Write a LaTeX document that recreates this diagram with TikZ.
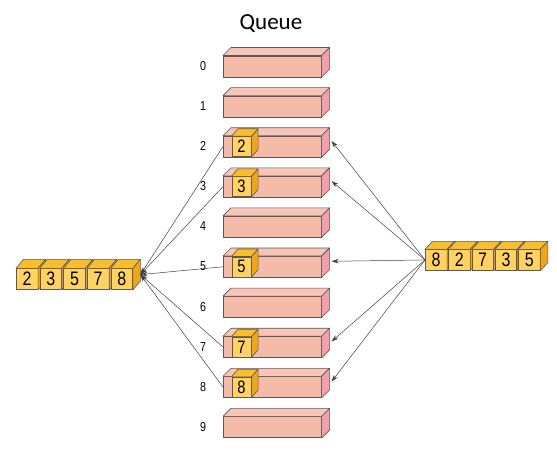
\documentclass[tikz,border=0pt]{standalone}
\usepackage{fontspec}
\setmainfont{Liberation Sans}
\newfontfamily\titlefont{Carlito}
\newfontfamily\narrowfont[FakeStretch=0.82]{Liberation Sans}
\usetikzlibrary{arrows.meta}
\definecolor{edgec}{HTML}{5E5656}
\definecolor{barfr}{HTML}{F4BBA8}
\definecolor{bartp}{HTML}{F7C6B6}
\definecolor{barrt}{HTML}{F0A0A6}
\definecolor{cubefr}{HTML}{FFD262}
\definecolor{cubetp}{HTML}{F8BE2C}
\definecolor{cubert}{HTML}{F0A61A}
\definecolor{arrc}{HTML}{404040}
\tikzset{
  barbox/.style={draw=edgec, fill=barfr, line width=0.6pt, minimum width=98pt, minimum height=21pt, inner sep=0pt, anchor=north west},
  cubebox/.style={draw=edgec, fill=cubefr, line width=0.6pt, inner sep=0pt, anchor=north west, font=\narrowfont\fontsize{19.5}{19.5}\selectfont, text=black},
  incube/.style={cubebox, minimum width=19.5pt, minimum height=20pt},
  stackcube/.style={cubebox, minimum width=21.5pt, minimum height=21pt},
  idx/.style={font=\narrowfont\fontsize{13}{13}\selectfont, text=black},
  conn/.style={draw=arrc, line width=0.5pt, -{Stealth[length=7pt,width=4.5pt]}},
}
% faces: #1 node, #2 dx, #3 dy, #4 top colour, #5 right colour
\newcommand{\boxfaces}[5]{%
  \filldraw[draw=edgec, fill=#4, line width=0.6pt, line join=round] (#1.north west) -- ++(#2,#3) -- ([shift={(#2,#3)}]#1.north east) -- (#1.north east) -- cycle;
  \filldraw[draw=edgec, fill=#5, line width=0.6pt, line join=round] (#1.north east) -- ++(#2,#3) -- ([shift={(#2,#3)}]#1.south east) -- (#1.south east) -- cycle;
}
\begin{document}
\begin{tikzpicture}[x=1pt, y=-1pt]
\useasboundingbox (0,0) rectangle (557,455);
\node[font=\titlefont\fontsize{23}{23}\selectfont] (title) at (271,24) {Queue};
% bars
\foreach \i in {0,...,9}{
  \pgfmathsetmacro{\yy}{55.5+40.1*\i}
  \node[barbox] (bar\i) at (223,\yy) {};
  \boxfaces{bar\i}{8pt}{8pt}{bartp}{barrt}
  \node[idx] (lab\i) at (203,\yy+10.5) {\i};
}
% cubes in bars
\foreach \i in {2,3,5,7,8}{
  \pgfmathsetmacro{\yy}{55.5+40.1*\i+0.5}
  \node[incube, font=\narrowfont\fontsize{18}{18}\selectfont] (c\i) at (231.5,\yy) {\i};
  \boxfaces{c\i}{6.5pt}{7.5pt}{cubetp}{cubert}
}
% left stack
\foreach \v [count=\k from 0] in {2,3,5,7,8}{
  \node[stackcube] (l\k) at (16+23.7*\k,268.3) {\v};
  \boxfaces{l\k}{7.5pt}{9pt}{cubetp}{cubert}
}
% right stack
\foreach \v [count=\k from 0] in {8,2,7,3,5}{
  \node[stackcube, minimum height=20.7pt] (r\k) at (425+23.3*\k,249.3) {\v};
  \boxfaces{r\k}{7.5pt}{8pt}{cubetp}{cubert}
}
\coordinate (lt) at ([shift={(7.5pt,4.5pt)}]l4.east);
\coordinate (rs) at (r0.west);
\foreach \i in {2,3,5,7,8}{
  \coordinate (t\i) at ([shift={(10pt,5.5pt)}]bar\i.east);
  \draw[conn] (rs) -- (t\i);
  \draw[conn] (bar\i.west) -- (lt);
}
\end{tikzpicture}
\end{document}
